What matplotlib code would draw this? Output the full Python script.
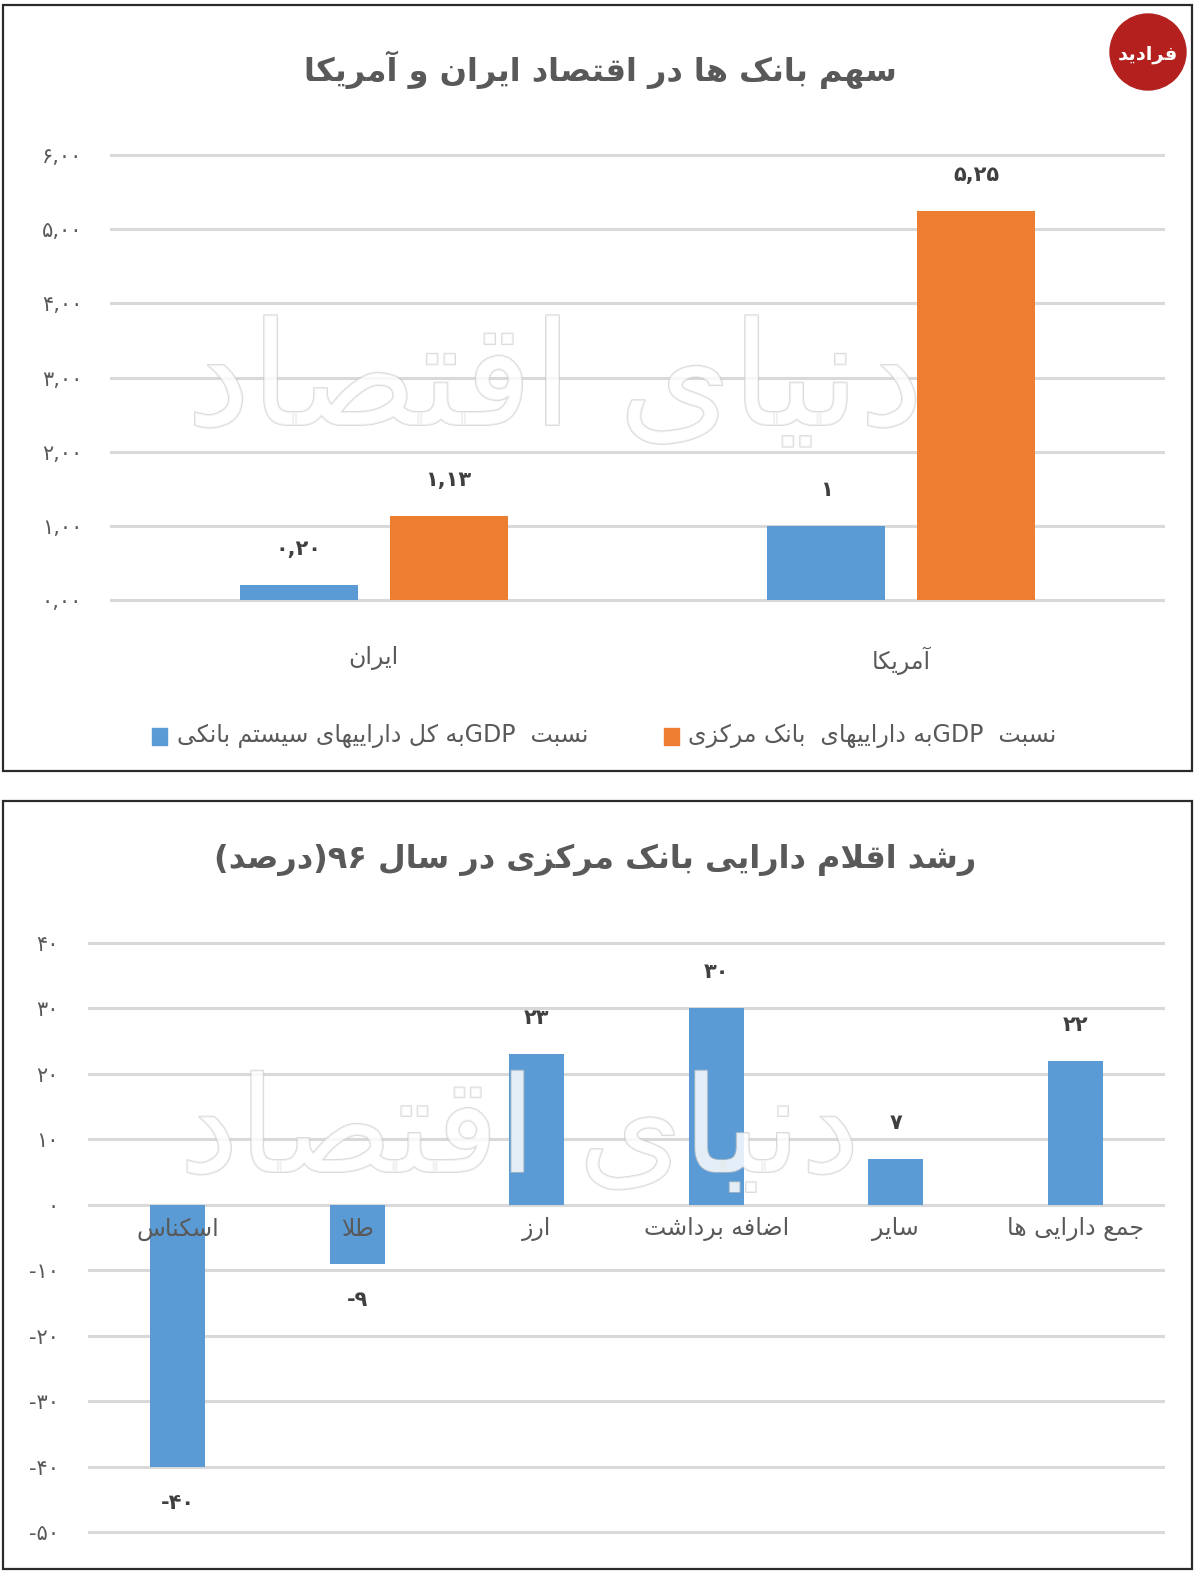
import re
import matplotlib
matplotlib.use('Agg')
import matplotlib.pyplot as plt
import matplotlib.patheffects as pe
from matplotlib.patches import Rectangle, Ellipse
from matplotlib.ticker import FuncFormatter
import numpy as np

plt.rcParams['font.family'] = ['DejaVu Sans']

# --- data -------------------------------------------------------------
title1 = 'سهم بانک ها در اقتصاد ایران و آمریکا'
countries = ['ایران', 'آمریکا']
system_ratio = [0.20, 1.0]      # blue
central_ratio = [1.13, 5.25]    # orange
legend_system = 'نسبت  GDPبه کل داراییهای سیستم بانکی'
legend_central = 'نسبت  GDPبه داراییهای  بانک مرکزی'

title2 = 'رشد اقلام دارایی بانک مرکزی در سال ۹۶(درصد)'
items = ['اسکناس', 'طلا', 'ارز', 'اضافه برداشت', 'سایر', 'جمع دارایی ها']
growth = [-40, -9, 23, 30, 7, 22]

watermark = 'دنیای اقتصاد'
logo_text = 'فرادید'

BLUE = '#5B9BD5'
ORANGE = '#ED7D31'
GRID = '#D9D9D9'
TXT = '#595959'
LBL = '#404040'

# --- minimal persian shaping (matplotlib has no bidi) -------------------
FORMS = {
    'ا': (0xFE8D, 0xFE8E, None, None),
    'آ': (0xFE81, 0xFE82, None, None),
    'ب': (0xFE8F, 0xFE90, 0xFE91, 0xFE92),
    'پ': (0xFB56, 0xFB57, 0xFB58, 0xFB59),
    'ت': (0xFE95, 0xFE96, 0xFE97, 0xFE98),
    'ج': (0xFE9D, 0xFE9E, 0xFE9F, 0xFEA0),
    'د': (0xFEA9, 0xFEAA, None, None),
    'ر': (0xFEAD, 0xFEAE, None, None),
    'ز': (0xFEAF, 0xFEB0, None, None),
    'س': (0xFEB1, 0xFEB2, 0xFEB3, 0xFEB4),
    'ش': (0xFEB5, 0xFEB6, 0xFEB7, 0xFEB8),
    'ص': (0xFEB9, 0xFEBA, 0xFEBB, 0xFEBC),
    'ض': (0xFEBD, 0xFEBE, 0xFEBF, 0xFEC0),
    'ط': (0xFEC1, 0xFEC2, 0xFEC3, 0xFEC4),
    'ع': (0xFEC9, 0xFECA, 0xFECB, 0xFECC),
    'ف': (0xFED1, 0xFED2, 0xFED3, 0xFED4),
    'ق': (0xFED5, 0xFED6, 0xFED7, 0xFED8),
    'ک': (0xFB8E, 0xFB8F, 0xFB90, 0xFB91),
    'ل': (0xFEDD, 0xFEDE, 0xFEDF, 0xFEE0),
    'م': (0xFEE1, 0xFEE2, 0xFEE3, 0xFEE4),
    'ن': (0xFEE5, 0xFEE6, 0xFEE7, 0xFEE8),
    'و': (0xFEED, 0xFEEE, None, None),
    'ه': (0xFEE9, 0xFEEA, 0xFEEB, 0xFEEC),
    'ی': (0xFBFC, 0xFBFD, 0xFBFE, 0xFBFF),
}
LAM_ALEF = {'ا': (0xFEFB, 0xFEFC), 'آ': (0xFEF5, 0xFEF6)}


def shape(s):
    res = []
    i, n = 0, len(s)
    while i < n:
        c = s[i]
        if c not in FORMS:
            res.append(c)
            i += 1
            continue
        prev = s[i - 1] if i > 0 else ''
        conn_prev = prev in FORMS and FORMS[prev][2] is not None
        if c == 'ل' and i + 1 < n and s[i + 1] in LAM_ALEF:
            lig = LAM_ALEF[s[i + 1]]
            res.append(chr(lig[1] if conn_prev else lig[0]))
            i += 2
            continue
        nxt = s[i + 1] if i + 1 < n else ''
        f = FORMS[c]
        conn_next = f[2] is not None and nxt in FORMS
        if conn_prev and conn_next:
            g = f[3]
        elif conn_prev:
            g = f[1]
        elif conn_next:
            g = f[2]
        else:
            g = f[0]
        res.append(chr(g))
        i += 1
    return ''.join(res)


def fa(s):
    s = shape(s)
    parts = re.findall(r'[A-Za-z0-9۰-۹]+|[^A-Za-z0-9۰-۹]+', s)
    out = []
    for p in reversed(parts):
        if re.match(r'[A-Za-z0-9۰-۹]', p):
            out.append(p)
        else:
            out.append(p[::-1].translate(str.maketrans('()', ')(')))
    return ''.join(out)


FA_DIGITS = str.maketrans('0123456789.', '۰۱۲۳۴۵۶۷۸۹,')


def fa_num(v, dec=0):
    if dec:
        s = f'{v:.{dec}f}'
    else:
        s = f'{v:.0f}'
    return s.translate(FA_DIGITS)


# --- figure -----------------------------------------------------------
W, H = 1200, 1579
fig = plt.figure(figsize=(W / 100, H / 100), dpi=100)


def box(x0, y0, x1, y1):
    # pixel box (top-left origin) -> figure fraction rect
    return [x0 / W, 1 - y1 / H, (x1 - x0) / W, (y1 - y0) / H]


# panel frames
for y0, y1 in [(5, 771), (801, 1569)]:
    fig.patches.append(Rectangle((3 / W, 1 - y1 / H), 1189 / W, (y1 - y0) / H,
                                 transform=fig.transFigure, fill=False,
                                 edgecolor='#2b2b2b', lw=1.6))

# ---------------- panel 1 ----------------
u1 = (600 - 155) / 6
ax1 = fig.add_axes(box(110, 155 - 0.1 * u1, 1165, 600 + 0.1 * u1))
x = np.arange(len(countries))
bw = 0.224
off = 0.142
ax1.bar(x - off, system_ratio, bw, color=BLUE, zorder=3)
ax1.bar(x + off, central_ratio, bw, color=ORANGE, zorder=3)
for xs, vals in [(x - off, system_ratio), (x + off, central_ratio)]:
    for xi, v in zip(xs, vals):
        lab = fa_num(v) if float(v).is_integer() else fa_num(v, 2)
        ax1.annotate(lab, (xi, v), xytext=(0, 26), textcoords='offset points',
                     ha='center', va='center', fontsize=15,
                     fontweight='bold', color=LBL)
ax1.set_xlim(-0.5, len(countries) - 0.5)
ax1.set_ylim(-0.1, 6.1)
ax1.set_yticks(np.arange(0, 7, 1))
ax1.yaxis.set_major_formatter(FuncFormatter(lambda v, p: fa_num(v, 2)))
ax1.set_xticks(x)
ax1.set_xticklabels([fa(c) for c in countries], fontsize=17, color=TXT)
ax1.tick_params(axis='x', length=0, pad=28)
ax1.tick_params(axis='y', length=0, pad=20, labelsize=15, labelcolor=TXT)
ax1.grid(axis='y', color=GRID, lw=2.2, zorder=0)
for s in ax1.spines.values():
    s.set_visible(False)

fig.text(600 / W, 1 - 70 / H, fa(title1), ha='center', va='center',
         fontsize=23, fontweight='bold', color=TXT)

# legend (drawn by hand, right to left)
ly = 1 - 736 / H
fig.patches.append(Rectangle((664 / W, ly - 9 / H), 15 / W, 17 / H,
                             transform=fig.transFigure, color=ORANGE))
fig.text(688 / W, ly, fa(legend_central), ha='left', va='center',
         fontsize=17, color=TXT)
fig.patches.append(Rectangle((152 / W, ly - 9 / H), 15 / W, 17 / H,
                             transform=fig.transFigure, color=BLUE))
fig.text(177 / W, ly, fa(legend_system), ha='left', va='center',
         fontsize=17, color=TXT)

# ---------------- panel 2 ----------------
u2 = (1532 - 943) / 90
ax2 = fig.add_axes(box(88, 943 - 1 * u2, 1165, 1532 + 1 * u2))
x2 = np.arange(len(items))
ax2.bar(x2, growth, 0.306, color=BLUE, zorder=3)
for xi, v in zip(x2, growth):
    lab = fa_num(abs(v))
    lab = '-' + lab if v < 0 else lab
    dy = 26 if v >= 0 else -26
    ax2.annotate(lab, (xi, v), xytext=(0, dy), textcoords='offset points',
                 ha='center', va='center', fontsize=15, fontweight='bold',
                 color=LBL)
for xi, c in zip(x2, items):
    ax2.text(xi, -1.8, fa(c), ha='center', va='top', fontsize=17,
             color=TXT, zorder=4)
ax2.set_xlim(-0.5, len(items) - 0.5)
ax2.set_ylim(-51, 41)
ax2.set_yticks(np.arange(-50, 41, 10))
ax2.yaxis.set_major_formatter(
    FuncFormatter(lambda v, p: ('-' if v < 0 else '') + fa_num(abs(v))))
ax2.set_xticks([])
ax2.tick_params(axis='y', length=0, pad=21, labelsize=15, labelcolor=TXT)
ax2.grid(axis='y', color=GRID, lw=2.2, zorder=0)
for s in ax2.spines.values():
    s.set_visible(False)

fig.text(595 / W, 1 - 860 / H, fa(title2), ha='center', va='center',
         fontsize=23, fontweight='bold', color=TXT)

# watermark (faint outlined lettering over both charts)
wm_fx = [pe.Stroke(linewidth=1.4, foreground='#c4c4c4'), pe.Normal()]
for cx, cy, fs in ((555, 385, 104), (520, 1135, 96)):
    fig.text(cx / W, 1 - cy / H, fa(watermark), ha='center', va='center',
             fontsize=fs, color='white', alpha=0.6, zorder=10,
             path_effects=wm_fx)

# logo
fig.patches.append(Ellipse((1148 / W, 1 - 52 / H), 76 / W, 76 / H,
                           transform=fig.transFigure, color='#B3201E'))
fig.text(1148 / W, 1 - 54 / H, fa(logo_text), ha='center', va='center',
         fontsize=14, fontweight='bold', color='white')

fig.savefig('out.png', dpi=100)
